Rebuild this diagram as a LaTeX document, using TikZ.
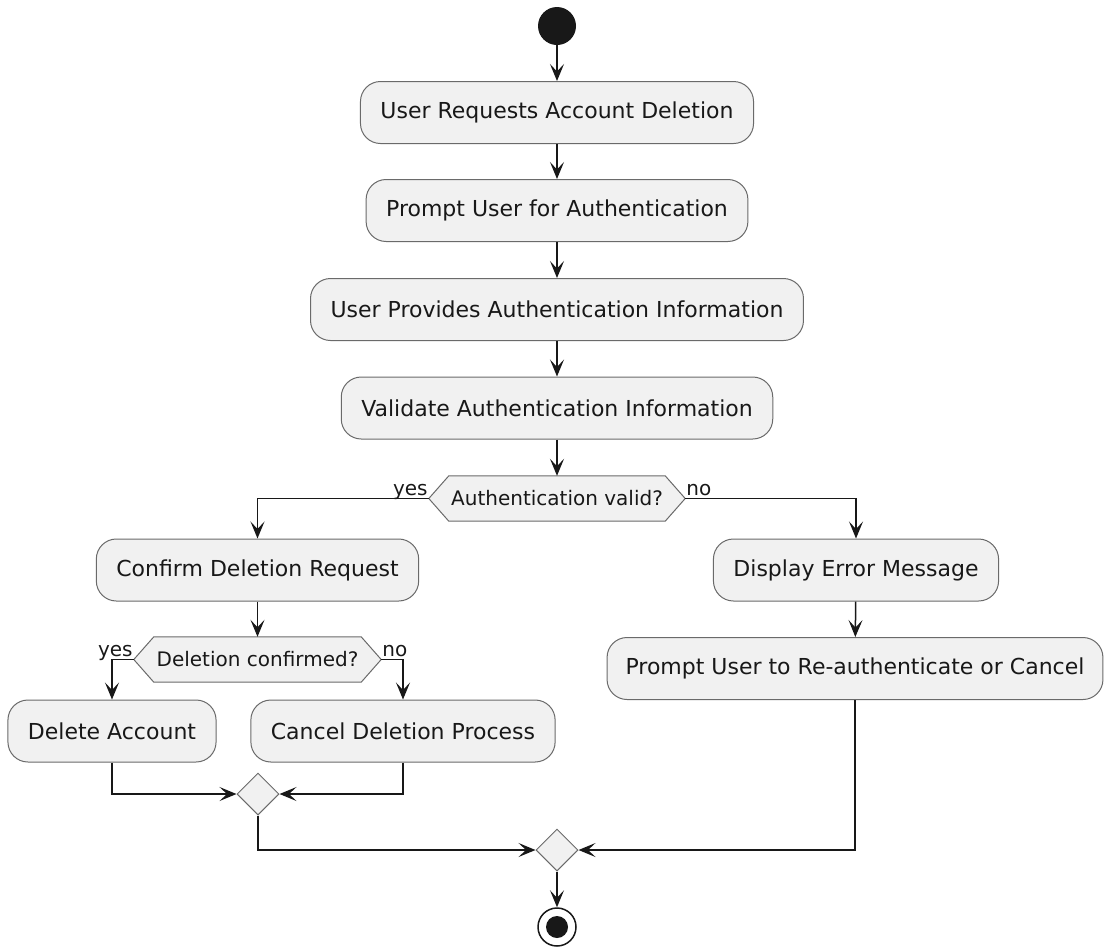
\documentclass[tikz,border=0pt]{standalone}
\usepackage{fontspec}
\setmainfont{DejaVu Sans}
\usetikzlibrary{shapes.geometric,arrows.meta,backgrounds,calc}
\definecolor{boxfill}{HTML}{F1F1F1}
\definecolor{boxline}{HTML}{6A6A6A}
\definecolor{ink}{HTML}{181818}
\tikzset{
  act/.style={draw=boxline, line width=1pt, fill=boxfill, rounded corners=20pt,
    minimum height=62pt, inner xsep=20pt, inner ysep=0pt, text=ink,
    font=\fontsize{22}{26}\selectfont},
  dec/.style={inner sep=0pt, minimum height=45pt, text=ink,
    font=\fontsize{20}{24}\selectfont},
  hexline/.style={draw=boxline, line width=1pt, fill=boxfill},
  merge/.style={diamond, draw=boxline, line width=1pt, fill=boxfill,
    minimum width=42pt, minimum height=42pt, inner sep=0pt},
  lbl/.style={inner sep=0pt, text=ink, font=\fontsize{20}{24}\selectfont},
  flow/.style={draw=ink, line width=1.5pt,
    -{Stealth[length=17pt, width=14pt, inset=7.5pt]}},
  startdot/.style={circle, fill=ink, minimum size=38pt, inner sep=0pt},
  enddot/.style={circle, draw=ink, line width=1.5pt, fill=white,
    minimum size=38pt, inner sep=0pt,
    path picture={\fill[ink] (path picture bounding box.center) circle (11pt);}}
}
% hexagonal frame drawn behind a decision label
\newcommand\hexframe[1]{%
  \begin{scope}[on background layer]
    \draw[hexline] (#1.west) -- ([xshift=20pt]#1.north west)
      -- ([xshift=-20pt]#1.north east) -- (#1.east)
      -- ([xshift=-20pt]#1.south east) -- ([xshift=20pt]#1.south west) -- cycle;
  \end{scope}}
\begin{document}
\begin{tikzpicture}[x=1pt, y=-1pt]
  \useasboundingbox (0,0) rectangle (1105,951);

  \node[startdot] (start) at (557,26) {};
  \node[act] (req)      at (557,112.5) {User Requests Account Deletion};
  \node[act] (prompt)   at (557,210.5) {Prompt User for Authentication};
  \node[act] (provide)  at (557,309.5) {User Provides Authentication Information};
  \node[act] (validate) at (557,408)   {Validate Authentication Information};

  \node[dec, minimum width=256pt] (authok) at (557,498.5) {Authentication valid?};
  \hexframe{authok}

  \node[act] (confirm) at (257.5,570) {Confirm Deletion Request};
  \node[act] (error)   at (856,570) {Display Error Message};
  \node[act, inner xsep=18.5pt] (retry) at (855,668.5) {Prompt User to Re-authenticate or Cancel};

  \node[dec, minimum width=247pt] (delok) at (257.5,659.5) {Deletion confirmed?};
  \hexframe{delok}

  \node[act] (delete) at (112,731) {Delete Account};
  \node[act] (cancel) at (403,731) {Cancel Deletion Process};

  \node[merge] (join1) at (258,794) {};
  \node[merge] (join2) at (557,850) {};
  \node[enddot] (stop) at (557,927) {};

  % branch labels
  \node[lbl, anchor=base east] (yes1) at ([xshift=-1pt, yshift=3pt]authok.west) {yes};
  \node[lbl, anchor=base west] (no1)  at ([xshift=1pt, yshift=3pt]authok.east) {no};
  \node[lbl, anchor=base east] (yes2) at ([xshift=-1pt, yshift=3pt]delok.west) {yes};
  \node[lbl, anchor=base west] (no2)  at ([xshift=1pt, yshift=3pt]delok.east) {no};

  % main sequence
  \draw[flow] (start) -- (req);
  \draw[flow] (req) -- (prompt);
  \draw[flow] (prompt) -- (provide);
  \draw[flow] (provide) -- (validate);
  \draw[flow] (validate) -- (authok);

  % authentication branches
  \draw[flow] (authok.west) -| (confirm.north);
  \draw[flow] (authok.east) -| (error.north);
  \draw[flow] (error) -- (retry);

  % confirmation branches
  \draw[flow] (confirm) -- (delok);
  \draw[flow] (delok.west) -| (delete.north);
  \draw[flow] (delok.east) -| (cancel.north);
  \draw[flow] (delete.south) |- (join1.west);
  \draw[flow] (cancel.south) |- (join1.east);

  % final merge
  \draw[flow] (join1.south) |- (join2.west);
  \draw[flow] (retry.south) |- (join2.east);
  \draw[flow] (join2) -- (stop);
\end{tikzpicture}
\end{document}
